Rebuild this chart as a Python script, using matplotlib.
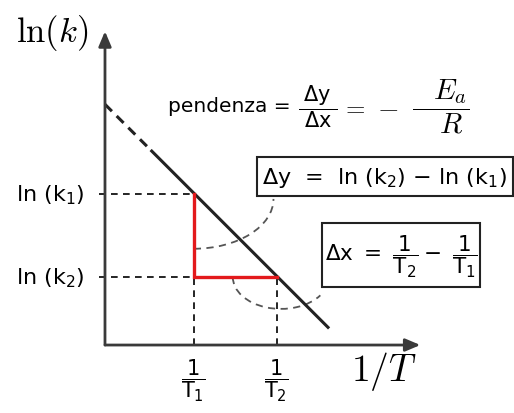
import matplotlib
matplotlib.use("Agg")
import matplotlib.pyplot as plt
from matplotlib.patches import Arc, Rectangle

# 1/T of the two temperatures and the rate constants read on the line
inv_T = [1.07, 2.07]
ln_k = [1.82, 0.82]
x_labels = [r"$\dfrac{1}{\mathrm{T}_1}$", r"$\dfrac{1}{\mathrm{T}_2}$"]
y_labels = [r"ln (k$_1$)", r"ln (k$_2$)"]

# Arrhenius line: dashed extrapolation to the y axis, then the solid part
extrap_x = [0.0, 0.55]
extrap_y = [2.90, 2.35]
line_x = [0.55, 2.70]
line_y = [2.35, 0.20]

axis_top = 3.78
axis_right = 3.80

INK = "#222222"
AXIS = "#3a3a3a"
RED = "#e3191c"
SANS = "DejaVu Sans"

fig = plt.figure(figsize=(5.14, 4.14), dpi=100)
ax = fig.add_axes([0, 0, 1, 1])
ax.set_xlim(-1.265, 4.928)
ax.set_ylim(-0.819, 4.169)
ax.axis("off")

# axes with arrow heads
arrow = dict(arrowstyle="-|>,head_length=0.9,head_width=0.38", lw=2.0,
             color=AXIS, shrinkA=0, shrinkB=0)
ax.annotate("", xy=(0, axis_top), xytext=(0, 0), arrowprops=arrow)
ax.annotate("", xy=(axis_right, 0), xytext=(0, 0), arrowprops=arrow)

# guide lines to the axes
dash = dict(color="black", lw=1.2, linestyle=(0, (4, 3.2)))
ax.plot([-0.07, inv_T[0]], [ln_k[0], ln_k[0]], **dash)
ax.plot([-0.07, inv_T[0]], [ln_k[1], ln_k[1]], **dash)
ax.plot([inv_T[0], inv_T[0]], [0, ln_k[1]], **dash)
ax.plot([inv_T[1], inv_T[1]], [0, ln_k[1]], **dash)

# the line
ax.plot(extrap_x, extrap_y, color=INK, lw=2.2, linestyle=(0, (3.2, 2.2)),
        solid_capstyle="butt")
ax.plot(line_x, line_y, color=INK, lw=2.2, solid_capstyle="butt")

# slope triangle
ax.plot([inv_T[0], inv_T[0], inv_T[1]], [ln_k[0], ln_k[1], ln_k[1]],
        color=RED, lw=2.4, solid_joinstyle="miter")

# curved pointers from the boxes to the triangle legs
ax.add_patch(Arc((1.07, 1.76), 1.92, 1.20, theta1=270, theta2=360,
                 color="#555555", lw=1.3, linestyle=(0, (4, 3))))
ax.add_patch(Arc((2.12, 0.82), 1.16, 0.77, theta1=180, theta2=335,
                 color="#555555", lw=1.3, linestyle=(0, (4, 3))))

# tick labels
for x, lab in zip(inv_T, x_labels):
    ax.text(x, -0.42, lab, ha="center", va="center", fontsize=15,
            math_fontfamily="dejavusans")
for y, lab in zip(ln_k, y_labels):
    ax.text(-0.25, y, lab, ha="right", va="center", fontsize=16,
            family=SANS, math_fontfamily="dejavusans")

# axis titles
ax.text(-0.64, 3.77, r"$\ln(k)$", ha="center", va="center", fontsize=25,
        math_fontfamily="cm")
ax.text(3.36, -0.31, r"$1/T$", ha="center", va="center", fontsize=27,
        math_fontfamily="cm")

# slope formula
ax.text(0.76, 2.88, "pendenza =", ha="left", va="center", fontsize=14.5,
        family=SANS)
ax.text(2.57, 2.88, r"$\dfrac{\;\Delta \mathrm{y}\;}{\Delta \mathrm{x}}$",
        ha="center", va="center", fontsize=15, math_fontfamily="dejavusans")
ax.text(2.99, 2.88, r"$=$", ha="center", va="center", fontsize=18,
        math_fontfamily="cm")
ax.text(3.41, 2.88, r"$-$", ha="center", va="center", fontsize=20,
        math_fontfamily="cm")
ax.text(4.04, 2.88, r"$\dfrac{\quad\!E_a}{\quad\!R}$", ha="center",
        va="center", fontsize=21, math_fontfamily="cm")

# boxed definitions
ax.add_patch(Rectangle((1.83, 1.795), 3.08, 0.47, fill=False, lw=1.5,
                       edgecolor=INK))
ax.text(3.37, 2.02, r"$\Delta$y  =  ln (k$_2$) $-$ ln (k$_1$)", ha="center",
        va="center", fontsize=16, family=SANS, math_fontfamily="dejavusans")

ax.add_patch(Rectangle((2.615, 0.70), 1.90, 0.77, fill=False, lw=1.5,
                       edgecolor=INK))
ax.text(3.57, 1.08,
        r"$\Delta\mathrm{x}\ =\ \dfrac{1}{\mathrm{T}_2} - \ \dfrac{1}{\mathrm{T}_1}$",
        ha="center", va="center", fontsize=15.5, math_fontfamily="dejavusans")

fig.savefig("out.png", dpi=100, facecolor="white")
